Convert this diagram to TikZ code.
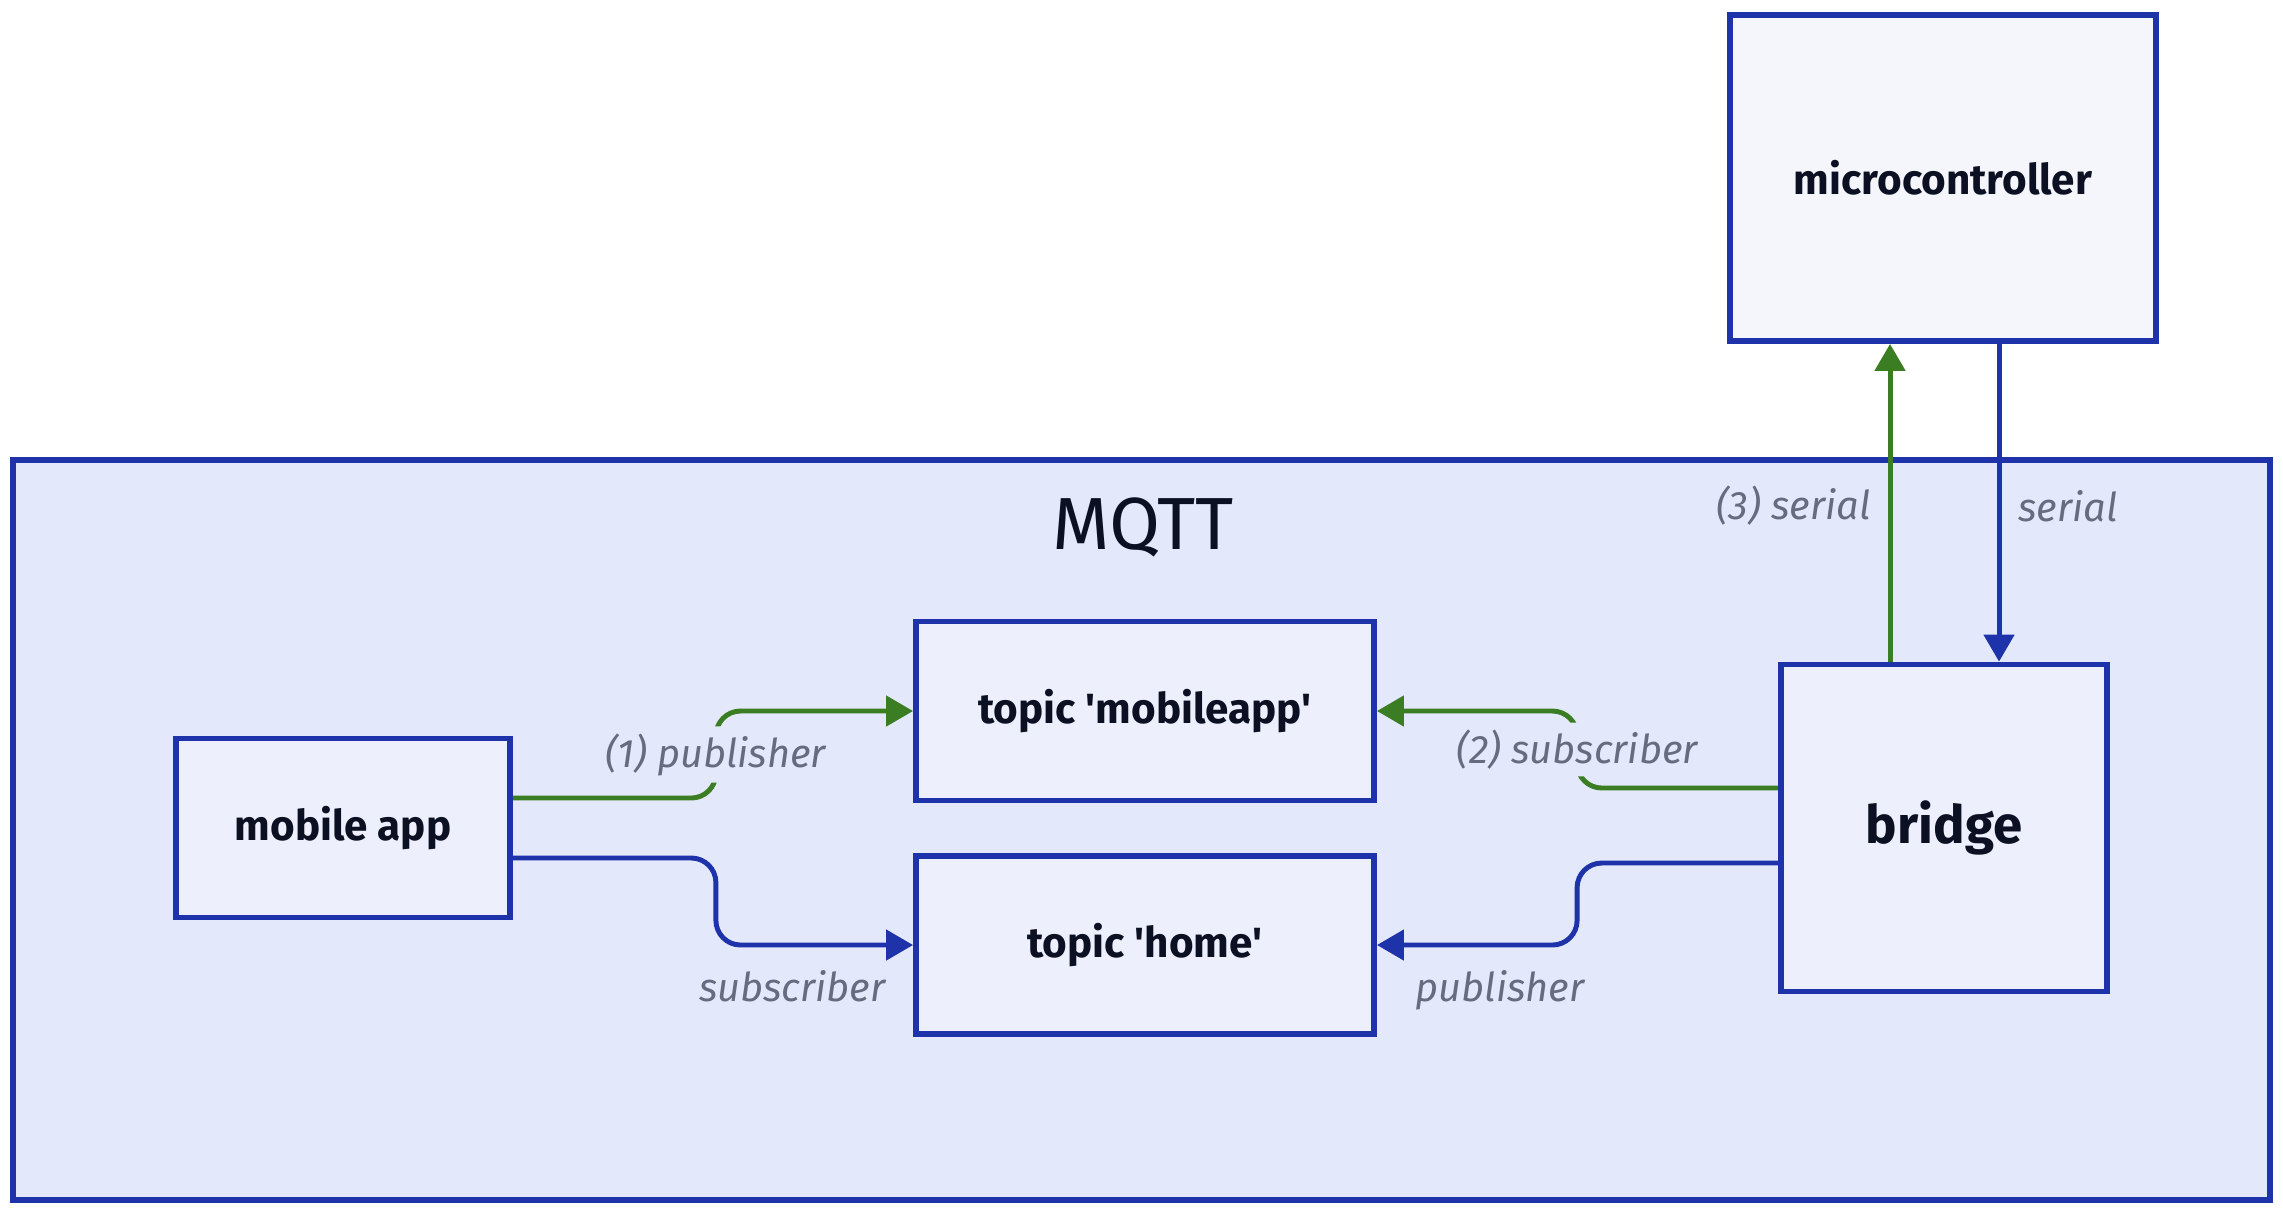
\documentclass[tikz,border=0pt]{standalone}
\usepackage{fontspec}
\setmainfont{Fira Sans}
\usetikzlibrary{calc,arrows.meta}
\definecolor{edgeblue}{HTML}{1E32AA}
\definecolor{flowgreen}{HTML}{3A7D22}
\definecolor{mqttbg}{HTML}{E3E8FA}
\definecolor{boxbg}{HTML}{EDF0FC}
\definecolor{outbg}{HTML}{F5F6FC}
\definecolor{labgray}{HTML}{676B80}
\definecolor{ink}{HTML}{0B1023}
\begin{document}
\begin{tikzpicture}[x=0.01cm,y=-0.01cm]
            \tikzset{box/.style 2 args={draw=edgeblue, line width=1.6pt, fill=boxbg, text=ink, font=\fontsize{12}{14}\selectfont\bfseries, minimum width=#1, minimum height=#2, inner sep=0pt}};
            \tikzset{flow/.style={line width=1.4pt, rounded corners=7pt, -{Triangle[length=0.27cm,width=0.3cm]}}};
            \tikzset{lab/.style={text=labgray, font=\fontsize{11.3}{13}\selectfont\itshape, inner sep=2pt}};
            \useasboundingbox (0,0) rectangle (2283,1208);
            
            \draw[draw=edgeblue, line width=1.6pt, fill=mqttbg] (13,460) rectangle (2270,1200);
            \node[text=ink, font=\fontsize{21}{24}\selectfont] (mqtt) at (1143,527) {MQTT};
            
            \node[box={4.26cm}{3.26cm}, fill=outbg] (mcu) at (1943,178) {microcontroller};
            \node[box={3.34cm}{1.79cm}] (mob) at (343,828) {mobile app};
            \node[box={4.58cm}{1.79cm}] (tma) at (1145,711) {topic \textquotesingle mobileapp\textquotesingle};
            \node[box={4.58cm}{1.78cm}] (thm) at (1145,945) {topic \textquotesingle home\textquotesingle};
            \node[box={3.26cm}{3.27cm}, font=\fontsize{15}{18}\selectfont\bfseries] (brg) at (1944,828) {bridge};
            
            \coordinate (gup) at ($(brg.north)+(-54,0)$);
            \coordinate (bdn) at ($(brg.north)+(55,0)$);
            
            \draw[flow, draw=flowgreen] ($(mob.east)+(0,-30)$) -- ++(203,0) |- (tma.west)
                node[lab, pos=0.25, fill=mqttbg] {(1) publisher};
            \draw[flow, draw=edgeblue] ($(mob.east)+(0,30)$) -- ++(203,0) |- (thm.west);
            \node[lab, anchor=north east] (sub1) at (893,963) {subscriber};
            
            \draw[flow, draw=flowgreen] ($(brg.west)+(0,-40)$) -- ++(-201,0) |- (tma.east)
                node[lab, pos=0.25, fill=mqttbg] {(2) subscriber};
            \draw[flow, draw=edgeblue] ($(brg.west)+(0,35)$) -- ++(-201,0) |- (thm.east);
            \node[lab, anchor=north west] (pub2) at (1408,963) {publisher};
            
            \draw[flow, draw=flowgreen] (gup) -- (gup |- mcu.south)
                node[lab, pos=0.49, anchor=east, xshift=-0.1cm] {(3) serial};
            \draw[flow, draw=edgeblue] (bdn |- mcu.south) -- (bdn)
                node[lab, pos=0.51, anchor=west, xshift=0.1cm] {serial};
        \end{tikzpicture}
\end{document}
